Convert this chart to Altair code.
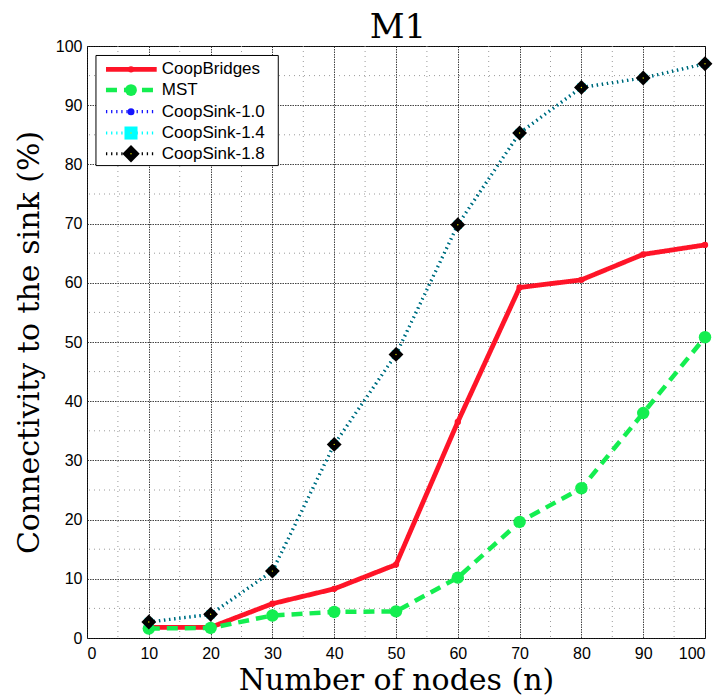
import altair as alt
import pandas as pd

# ---------------- data ----------------
nodes = [10, 20, 30, 40, 50, 60, 70, 80, 90, 100]
coop_bridges = [1.8, 1.8, 5.8, 8.3, 12.4, 36.5, 59.2, 60.5, 64.8, 66.4]
mst = [1.6, 1.7, 3.8, 4.4, 4.5, 10.2, 19.6, 25.3, 38.0, 50.8]
coop_sink_10 = [2.7, 4.0, 11.3, 32.7, 47.9, 69.8, 85.3, 93.0, 94.6, 97.0]
coop_sink_14 = [2.7, 4.0, 11.3, 32.7, 47.9, 69.8, 85.3, 93.0, 94.6, 97.0]
coop_sink_18 = [2.7, 4.0, 11.3, 32.7, 47.9, 69.8, 85.3, 93.0, 94.6, 97.0]
series_names = ["CoopBridges", "MST", "CoopSink-1.0", "CoopSink-1.4", "CoopSink-1.8"]
series_values = [coop_bridges, mst, coop_sink_10, coop_sink_14, coop_sink_18]
axis_ticks = [0, 10, 20, 30, 40, 50, 60, 70, 80, 90, 100]
minor_ticks = [5, 15, 25, 35, 45, 55, 65, 75, 85, 95]
chart_title = "M1"

# ---------------- styles ----------------
DOT = [1.3, 3.8]
styles = {
    "CoopBridges": dict(color="#ff1428", width=4.8, dash=[1, 0], shape="circle", size=40, lsize=40, opacity=1.0),
    "MST": dict(color="#14ee50", width=4.5, dash=[11, 7], shape="circle", size=155, lsize=140, opacity=1.0),
    "CoopSink-1.0": dict(color="#1414ff", width=3.2, dash=DOT, shape="circle", size=50, lsize=50, opacity=0.5),
    "CoopSink-1.4": dict(color="#00ffff", width=3.2, dash=DOT, shape="square", size=70, lsize=170, opacity=1.0),
    "CoopSink-1.8": dict(color="#000000", width=3.2, dash=DOT, shape="diamond", size=220, lsize=300, opacity=0.6),
}

# legend layout in data units
LEG = dict(x0=1.45, x1=30.95, y0=79.8, y1=98.4,
           line_x0=3.07, line_x1=11.28, mark_x=7.12, text_x=12.1,
           rows=[96.06, 92.56, 88.9, 85.3, 81.8])

W, H = 618, 592
SERIF = "DejaVu Serif"
SANS = "Liberation Sans"

xs = alt.Scale(domain=[0, 100], nice=False, zero=False)
ys = alt.Scale(domain=[0, 100], nice=False, zero=False)

x_axis = alt.Axis(values=axis_ticks, title="Number of nodes (n)", titleBaseline="alphabetic",
                  titleY=51, labelPadding=7)
y_axis = alt.Axis(values=axis_ticks, title="Connectivity to the sink (%)", titleBaseline="alphabetic",
                  titleX=-49, titleY=H / 2, titleAngle=-90, titleAlign="center", labelPadding=5)


def X(field="x"):
    return alt.X(f"{field}:Q", scale=xs, axis=x_axis)


def Y(field="y"):
    return alt.Y(f"{field}:Q", scale=ys, axis=y_axis)


layers = []

# minor grid
minor_df = pd.DataFrame({"v": minor_ticks})
layers.append(alt.Chart(minor_df).mark_rule(color="#9a9a9a", strokeWidth=1, strokeDash=[1, 4]).encode(x=X("v")))
layers.append(alt.Chart(minor_df).mark_rule(color="#9a9a9a", strokeWidth=1, strokeDash=[1, 4]).encode(y=Y("v")))

# data series
for name, vals in zip(series_names, series_values):
    st = styles[name]
    df = pd.DataFrame({"x": nodes, "y": vals})
    layers.append(
        alt.Chart(df).mark_line(color=st["color"], strokeWidth=st["width"], strokeDash=st["dash"],
                                opacity=st["opacity"]).encode(x=X(), y=Y())
    )
    layers.append(
        alt.Chart(df).mark_point(shape=st["shape"], filled=True, color=st["color"], size=st["size"],
                                 opacity=1).encode(x=X(), y=Y())
    )
    if name == "CoopSink-1.8":
        layers.append(
            alt.Chart(df).mark_point(shape="circle", filled=True, color="#e0e000", size=2, opacity=1)
            .encode(x=X(), y=Y())
        )

# legend box
box_df = pd.DataFrame({"x": [LEG["x0"]], "x2": [LEG["x1"]], "y": [LEG["y0"]], "y2": [LEG["y1"]]})
layers.append(
    alt.Chart(box_df).mark_rect(fill="white", stroke="black", strokeWidth=1)
    .encode(x=X(), x2="x2:Q", y=Y(), y2="y2:Q")
)

for name, ry in zip(series_names, LEG["rows"]):
    st = styles[name]
    ldf = pd.DataFrame({"x": [LEG["line_x0"]], "x2": [LEG["line_x1"]], "y": [ry],
                        "mx": [LEG["mark_x"]], "tx": [LEG["text_x"]], "label": [name]})
    layers.append(
        alt.Chart(ldf).mark_rule(color=st["color"], strokeWidth=st["width"], strokeDash=st["dash"])
        .encode(x=X(), x2="x2:Q", y=Y())
    )
    layers.append(
        alt.Chart(ldf).mark_point(shape=st["shape"], filled=True, color=st["color"], size=st["lsize"], opacity=1)
        .encode(x=X("mx"), y=Y())
    )
    if name in ("CoopSink-1.8", "CoopSink-1.4"):
        layers.append(
            alt.Chart(ldf).mark_point(shape="circle", filled=True, color="#e0e000", size=2, opacity=1)
            .encode(x=X("mx"), y=Y())
        )
    layers.append(
        alt.Chart(ldf).mark_text(align="left", baseline="middle", font=SANS, fontSize=17, color="black")
        .encode(x=X("tx"), y=Y(), text="label:N")
    )

# chart title, placed above the plot area
title_df = pd.DataFrame({"t": [chart_title]})
layers.append(
    alt.Chart(title_df).mark_text(font=SERIF, fontSize=34, color="black", align="center",
                                  baseline="alphabetic")
    .encode(x=alt.value(W / 2 + 2), y=alt.value(-8), text="t:N")
)

chart = (
    alt.layer(*layers)
    .properties(
        width=W, height=H,
        autosize=alt.AutoSizeParams(type="none"),
        padding={"left": 87, "top": 46, "right": 14, "bottom": 62},
    )
    .configure_view(stroke="black", strokeWidth=1)
    .configure_axis(
        grid=True, gridColor="#222222", gridDash=[1.5, 1], gridWidth=1, gridOpacity=0.85,
        ticks=False, tickSize=0, domain=False,
        labelFont=SANS, labelFontSize=16, labelColor="black",
        titleFont=SERIF, titleFontSize=30, titleFontWeight="normal", titleColor="black",
    )
)

chart.save("out.html", embed_options={"renderer": "svg", "actions": False})
